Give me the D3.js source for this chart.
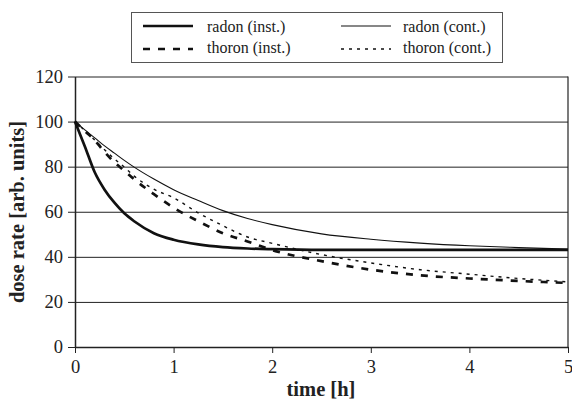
<!DOCTYPE html>
<html lang="en">
<head>
<meta charset="utf-8">
<title>dose rate</title>
<script src="https://cdn.jsdelivr.net/npm/d3@7"></script>
<style>
  body { margin: 0; background: #fff; }
  svg text { fill: #222; }
</style>
</head>
<body>
<script>
// time in hours
var times = [0, 0.1, 0.2, 0.3, 0.4, 0.5, 0.6, 0.8, 1, 1.25, 1.5, 1.75, 2, 2.5, 3, 3.5, 4, 4.5, 5];
var radonInst   = [100, 89, 77.5, 69.8, 64, 59.3, 55.8, 50.5, 47.6, 45.5, 44.3, 43.7, 43.4, 43.1, 43.1, 43.1, 43.1, 43.1, 43.1];
var radonCont   = [100, 96.3, 92.8, 89.2, 86, 82.8, 79.8, 74.5, 69.8, 65, 60.5, 57, 54.3, 50.2, 47.8, 46.1, 44.9, 44.1, 43.4];
var thoronInst  = [100, 95.8, 91.7, 86.5, 81.9, 78.2, 74.4, 67.8, 61.8, 55.8, 50.5, 46.8, 43, 38.1, 34.3, 31.8, 30.4, 29.3, 28.4];
var thoronCont  = [100, 96, 91.8, 87.5, 83.5, 79.8, 75.8, 70, 66.2, 59.5, 53.8, 48.8, 46, 41, 37.3, 34.3, 32.3, 30.4, 28.9];
var seriesNames = ["radon (inst.)", "radon (cont.)", "thoron (inst.)", "thoron (cont.)"];
var xTicks = [0, 1, 2, 3, 4, 5];
var yTicks = [0, 20, 40, 60, 80, 100, 120];

var width = 572, height = 401;
var plotLeft = 75, plotRight = 568, plotTop = 76.5, plotBottom = 347;
var serif = "'Liberation Serif', 'Times New Roman', serif";

var svg = d3.select("body").append("svg").attr("width", width).attr("height", height);

var x = d3.scaleLinear().domain([0, 5]).range([plotLeft, plotRight]);
var y = d3.scaleLinear().domain([0, 120]).range([plotBottom, plotTop]);

// gridlines
svg.append("g").attr("transform", "translate(" + plotLeft + ",0)")
  .call(d3.axisLeft(y).tickValues(yTicks).tickSize(-(plotRight - plotLeft)).tickFormat(""))
  .call(function (g) { g.select(".domain").remove(); })
  .selectAll("line").attr("stroke", "#222").attr("stroke-width", 1);

// right border
svg.append("line").attr("x1", plotRight).attr("x2", plotRight).attr("y1", plotTop).attr("y2", plotBottom)
  .attr("stroke", "#222").attr("stroke-width", 1.2);

// axes
var yAxis = svg.append("g").attr("transform", "translate(" + plotLeft + ",0)")
  .call(d3.axisLeft(y).tickValues(yTicks).tickFormat(d3.format("d")).tickSize(7).tickSizeOuter(0).tickPadding(5));
var xAxis = svg.append("g").attr("transform", "translate(0," + plotBottom + ")")
  .call(d3.axisBottom(x).tickValues(xTicks).tickFormat(d3.format("d")).tickSize(6).tickSizeOuter(0).tickPadding(7));
[xAxis, yAxis].forEach(function (a) {
  a.attr("font-family", serif).attr("font-size", 18.5);
  a.select(".domain").attr("stroke", "#222").attr("stroke-width", 1.5);
  a.selectAll("line").attr("stroke", "#222");
  a.selectAll("text").style("font-family", serif).style("font-size", "18.5px").attr("fill", "#222");
});

svg.append("text").attr("x", 321).attr("y", 396)
  .attr("text-anchor", "middle").style("font-family", serif).style("font-size", "20.5px").attr("font-weight", "bold")
  .text("time [h]");
svg.append("text").attr("transform", "translate(24,212) rotate(-90)")
  .attr("text-anchor", "middle").style("font-family", serif).style("font-size", "20.5px").attr("font-weight", "bold")
  .text("dose rate [arb. units]");

var styles = [
  { data: radonInst, w: 2.7, dash: null },
  { data: radonCont, w: 1.1, dash: null },
  { data: thoronInst, w: 2.7, dash: "7,8" },
  { data: thoronCont, w: 1.4, dash: "3,5" }
];

var line = d3.line().x(function (d) { return x(d[0]); }).y(function (d) { return y(d[1]); })
  .curve(d3.curveMonotoneX);

styles.forEach(function (s) {
  svg.append("path")
    .attr("d", line(times.map(function (t, i) { return [t, s.data[i]]; })))
    .attr("fill", "none").attr("stroke", "#111")
    .attr("stroke-width", s.w)
    .attr("stroke-dasharray", s.dash);
});

// legend
var lg = svg.append("g");
lg.append("rect").attr("x", 131.5).attr("y", 12.5).attr("width", 371).attr("height", 50)
  .attr("fill", "#fff").attr("stroke", "#555").attr("stroke-width", 1);
var legendPos = [[143, 26, 207, 32], [341, 26, 403, 32], [143, 49, 207, 53], [341, 49, 403, 53]];
seriesNames.forEach(function (name, i) {
  var p = legendPos[i], s = styles[i];
  lg.append("line").attr("x1", p[0]).attr("x2", p[0] + 50).attr("y1", p[1]).attr("y2", p[1])
    .attr("stroke", "#111").attr("stroke-width", s.w).attr("stroke-dasharray", s.dash);
  lg.append("text").attr("x", p[2]).attr("y", p[3])
    .style("font-family", serif).style("font-size", "16px").text(name);
});
</script>
</body>
</html>
